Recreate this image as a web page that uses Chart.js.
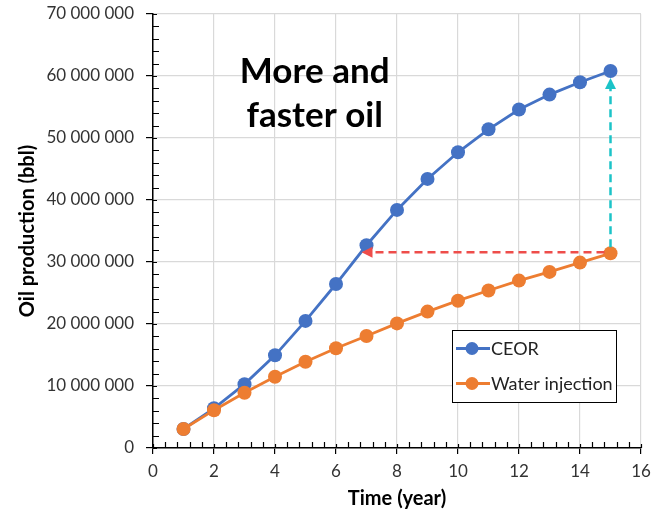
<!DOCTYPE html>
<html lang="en">
<head>
<meta charset="UTF-8">
<title>Oil production</title>
<style>
  html, body { margin: 0; padding: 0; background: #fff; }
  #wrap { width: 659px; height: 515px; position: relative; }
</style>
</head>
<body>
<div id="wrap"><canvas id="oilChart" width="659" height="515"></canvas></div>
<script src="https://cdn.jsdelivr.net/npm/chart.js@4.4.1/dist/chart.umd.min.js"></script>
<script>
// cumulative oil production per year (bbl)
const years = [1, 2, 3, 4, 5, 6, 7, 8, 9, 10, 11, 12, 13, 14, 15];
const ceor = [3060000, 6400000, 10300000, 14950000, 20500000, 26450000, 32700000, 38400000,
              43400000, 47700000, 51400000, 54600000, 57000000, 59000000, 60800000];
const waterInjection = [3060000, 6100000, 8900000, 11500000, 13900000, 16100000, 18060000, 20100000,
                        22000000, 23760000, 25400000, 27000000, 28400000, 29900000, 31400000];
const seriesNames = ['CEOR', 'Water injection'];
const xTicks = [0, 2, 4, 6, 8, 10, 12, 14, 16];
const yTicks = [0, 10000000, 20000000, 30000000, 40000000, 50000000, 60000000, 70000000];
const headline = ['More and', 'faster oil'];

const BLUE = '#4472C4', ORANGE = '#ED7D31';
const FONT = 'Lato, "Open Sans", sans-serif';

function spaced(n) {
  return String(n).replace(/\B(?=(\d{3})+(?!\d))/g, ' ');
}

function arrow(ctx, x1, y1, x2, y2, color) {
  const ang = Math.atan2(y2 - y1, x2 - x1);
  const head = 11;
  ctx.save();
  ctx.strokeStyle = color;
  ctx.fillStyle = color;
  ctx.lineWidth = 2.5;
  ctx.setLineDash([8, 5]);
  ctx.beginPath();
  ctx.moveTo(x1, y1);
  ctx.lineTo(x2 - Math.cos(ang) * head, y2 - Math.sin(ang) * head);
  ctx.stroke();
  ctx.setLineDash([]);
  ctx.beginPath();
  ctx.moveTo(x2, y2);
  ctx.lineTo(x2 - Math.cos(ang) * head - Math.sin(ang) * 5.5, y2 - Math.sin(ang) * head + Math.cos(ang) * 5.5);
  ctx.lineTo(x2 - Math.cos(ang) * head + Math.sin(ang) * 5.5, y2 - Math.sin(ang) * head - Math.cos(ang) * 5.5);
  ctx.closePath();
  ctx.fill();
  ctx.restore();
}

// minor ticks + inner half of the major ticks
const minorTicks = {
  id: 'minorTicks',
  afterDraw(chart) {
    const { ctx, scales: { x, y } } = chart;
    ctx.save();
    ctx.strokeStyle = '#000';
    ctx.lineWidth = 1.2;
    ctx.beginPath();
    for (let v = 0; v <= 16.001; v += 0.4) {
      const px = Math.round(x.getPixelForValue(v)) + 0.5;
      const major = Math.abs(v / 2 - Math.round(v / 2)) < 0.01;
      ctx.moveTo(px, y.bottom);
      ctx.lineTo(px, y.bottom - (major ? 4 : 6));
    }
    for (let v = 0; v <= 70000000; v += 2000000) {
      const py = Math.round(y.getPixelForValue(v)) + 0.5;
      const major = v % 10000000 === 0;
      ctx.moveTo(x.left, py);
      ctx.lineTo(x.left + (major ? 4 : 6), py);
    }
    ctx.stroke();
    ctx.restore();
  }
};

const annotations = {
  id: 'annotations',
  afterDatasetsDraw(chart) {
    const { ctx, scales: { x, y } } = chart;
    const last = years.length - 1;
    const xEnd = x.getPixelForValue(years[last]);
    const yWater = y.getPixelForValue(waterInjection[last]);
    const yCeor = y.getPixelForValue(ceor[last]);
    // same volume reached much earlier with CEOR
    const iSame = years.indexOf(7);
    arrow(ctx, xEnd - 6, yWater - 1, x.getPixelForValue(years[iSame]) - 5, yWater - 1, '#EE4D4A');
    // extra volume at the end of the period
    arrow(ctx, xEnd, yWater - 6, xEnd, yCeor + 7, '#1CC3C8');

    ctx.save();
    ctx.fillStyle = '#000';
    ctx.font = 'bold 35px ' + FONT;
    ctx.textAlign = 'center';
    ctx.textBaseline = 'alphabetic';
    const cx = x.getPixelForValue(5.3);
    ctx.fillText(headline[0], cx, 83);
    ctx.fillText(headline[1], cx, 127);
    ctx.restore();
  }
};

const boxLegend = {
  id: 'boxLegend',
  afterDraw(chart) {
    const { ctx, chartArea } = chart;
    const left = chartArea.right - 189, top = chartArea.top + 316;
    const w = 164, h = 72;
    ctx.save();
    ctx.fillStyle = '#fff';
    ctx.fillRect(left, top, w, h);
    ctx.strokeStyle = '#000';
    ctx.lineWidth = 1;
    ctx.strokeRect(left + 0.5, top + 0.5, w, h);
    ctx.font = '18px ' + FONT;
    ctx.textBaseline = 'middle';
    chart.data.datasets.forEach((ds, i) => {
      const yy = top + 18.5 + i * 35;
      ctx.strokeStyle = ds.borderColor;
      ctx.lineWidth = 2.8;
      ctx.beginPath();
      ctx.moveTo(left + 4, yy);
      ctx.lineTo(left + 38, yy);
      ctx.stroke();
      ctx.fillStyle = ds.backgroundColor;
      ctx.beginPath();
      ctx.arc(left + 20, yy, 6.5, 0, Math.PI * 2);
      ctx.fill();
      ctx.fillStyle = '#222';
      ctx.fillText(ds.label, left + 39, yy + 1);
    });
    ctx.restore();
  }
};

const ctx = document.getElementById('oilChart').getContext('2d');
new Chart(ctx, {
  type: 'line',
  data: {
    datasets: [
      {
        label: seriesNames[0],
        data: years.map((t, i) => ({ x: t, y: ceor[i] })),
        borderColor: BLUE, backgroundColor: BLUE,
        borderWidth: 2.8, pointRadius: 7, pointBorderWidth: 0,
        order: 1
      },
      {
        label: seriesNames[1],
        data: years.map((t, i) => ({ x: t, y: waterInjection[i] })),
        borderColor: ORANGE, backgroundColor: ORANGE,
        borderWidth: 2.8, pointRadius: 7, pointBorderWidth: 0,
        order: 0
      }
    ]
  },
  options: {
    responsive: false,
    animation: false,
    layout: { padding: { top: 14, right: 18, left: 12, bottom: 0 } },
    plugins: { legend: { display: false }, tooltip: { enabled: false } },
    scales: {
      x: {
        type: 'linear', min: 0, max: 16,
        afterBuildTicks: s => { s.ticks = xTicks.map(v => ({ value: v })); },
        afterFit: s => { s.height = 67; s.paddingLeft = 0; s.paddingRight = 0; },
        grid: { color: '#D9D9D9', lineWidth: 1.2, tickColor: '#000', tickLength: 6, tickWidth: 1.2 },
        border: { color: '#000', width: 1.5 },
        ticks: { color: '#333', font: { family: FONT, size: 17 }, padding: 7, maxRotation: 0 },
        title: { display: true, text: 'Time (year)', color: '#000', font: { family: FONT, size: 20, weight: 'bold' }, padding: { top: 5 } }
      },
      y: {
        min: 0, max: 70000000,
        afterBuildTicks: s => { s.ticks = yTicks.map(v => ({ value: v })); },
        afterFit: s => { s.width = 141; s.paddingTop = 0; s.paddingBottom = 0; },
        grid: { color: '#D9D9D9', lineWidth: 1.2, tickColor: '#000', tickLength: 7, tickWidth: 1.2 },
        border: { color: '#000', width: 1.5 },
        ticks: { color: '#333', font: { family: FONT, size: 17 }, padding: 12, callback: v => spaced(v) },
        title: { display: true, text: 'Oil production (bbl)', color: '#000', font: { family: FONT, size: 20, weight: 'bold' }, padding: { bottom: 0 } }
      }
    }
  },
  plugins: [annotations, minorTicks, boxLegend]
});
</script>
</body>
</html>
